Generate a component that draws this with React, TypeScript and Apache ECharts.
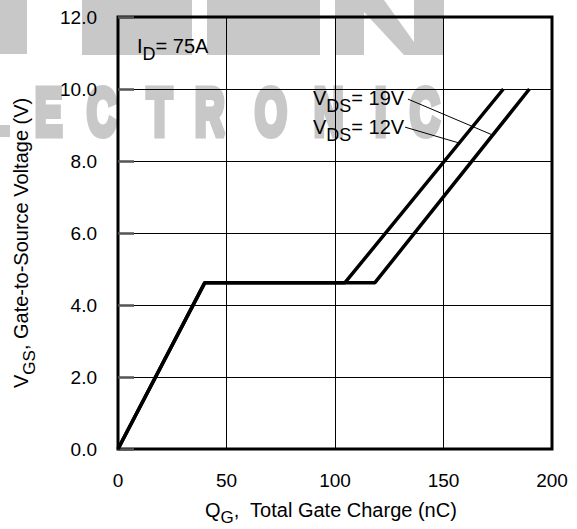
import React, { useEffect, useRef } from "react";
import * as echarts from "echarts";

const FONT = '"Liberation Sans", Arial, Helvetica, sans-serif';

// Axis ranges (nC, V)
const qRange = [0, 200];
const qStep = 50;
const vRange = [0, 12];
const vStep = 2;

// Gate charge curves: Q_G (nC) vs V_GS (V)
const vds12Q = [0, 40, 104.6, 177.6];
const vds12V = [0, 4.62, 4.62, 10];
const vds19Q = [0, 40, 118.4, 189.6];
const vds19V = [0, 4.62, 4.62, 10];

// Leader lines from the V_DS labels to their curves: [Q, V] start and end
const leader19 = [[133.6, 9.72], [172.7, 8.72]];
const leader12 = [[132.3, 8.94], [157.2, 8.5]];

const WM = "#c8c8c8";

let measureCtx: CanvasRenderingContext2D | null = null;
function textWidth(text: string, size: number, weight = "normal"): number {
  if (!measureCtx) measureCtx = document.createElement("canvas").getContext("2d");
  if (!measureCtx) return text.length * size * 0.55;
  measureCtx.font = `${weight} ${size}px ${FONT}`;
  return measureCtx.measureText(text).width;
}

type Run = { text: string; size: number; drop: number };

// Lays out a line of text with baseline-shifted runs (for subscripts)
function runs(x0: number, baseline: number, parts: Run[]) {
  let x = x0;
  const out: any[] = [];
  for (const p of parts) {
    out.push({
      type: "text",
      x,
      y: baseline + p.drop - 0.31 * p.size,
      z: 50,
      style: {
        text: p.text,
        fontSize: p.size,
        fontFamily: FONT,
        fill: "#000",
        align: "left",
        textAlign: "left",
        verticalAlign: "middle",
        textVerticalAlign: "middle",
      },
    });
    x += textWidth(p.text, p.size);
  }
  return out;
}

function wmLetter(ch: string, x: number) {
  return {
    type: "text",
    x,
    y: 112.5,
    scaleX: 0.62,
    z: -10,
    style: {
      text: ch,
      fontSize: 66,
      fontWeight: "bold",
      fontFamily: FONT,
      fill: WM,
      stroke: WM,
      lineWidth: 7,
      align: "left",
      textAlign: "left",
      verticalAlign: "middle",
      textVerticalAlign: "middle",
    },
  };
}

function wmRect(x: number, y: number, w: number, h: number) {
  return { type: "rect", z: -10, shape: { x, y, width: w, height: h }, style: { fill: WM } };
}

export default function App() {
  const ref = useRef<HTMLDivElement>(null);

  useEffect(() => {
    if (!ref.current) return;
    const chart = echarts.init(ref.current, undefined, { renderer: "svg" });

    const line = (name: string, qs: number[], vs: number[], leader: number[][]) => ({
      name,
      type: "line",
      data: qs.map((q, i) => [q, vs[i]]),
      symbol: "none",
      lineStyle: { color: "#000", width: 3.5 },
      z: 5,
      markLine: {
        silent: true,
        symbol: "none",
        label: { show: false },
        lineStyle: { color: "#000", width: 1, type: "solid" },
        data: [[{ coord: leader[0] }, { coord: leader[1] }]],
      },
    });

    const graphics: any[] = [
      // faint background lettering
      wmRect(0, 0, 27, 54),
      wmRect(82, 0, 110, 55),
      wmRect(207, 0, 113, 55),
      wmRect(335, 0, 29, 55),
      wmRect(414, 0, 30, 55),
      { type: "polygon", z: -10, shape: { points: [[364, 0], [384, 0], [414, 42], [414, 55], [404, 55], [364, 12]] }, style: { fill: WM } },
      wmRect(0, 125, 10, 12),
      wmLetter("E", 35),
      wmLetter("C", 87),
      wmLetter("T", 147),
      wmLetter("R", 195),
      wmLetter("O", 255),
      wmLetter("N", 314),
      wmLetter("I", 375),
      wmLetter("C", 410),
      // annotations
      ...runs(137, 52, [
        { text: "I", size: 20, drop: 0 },
        { text: "D", size: 18, drop: 8 },
        { text: "= 75A", size: 20, drop: 0 },
      ]),
      ...runs(313, 104, [
        { text: "V", size: 20, drop: 0 },
        { text: "DS", size: 18, drop: 8 },
        { text: "= 19V", size: 20, drop: 0 },
      ]),
      ...runs(313, 133, [
        { text: "V", size: 20, drop: 0 },
        { text: "DS", size: 18, drop: 8 },
        { text: "= 12V", size: 20, drop: 0 },
      ]),
      // x axis title
      ...runs(205, 516, [
        { text: "Q", size: 20, drop: 0 },
        { text: "G", size: 17, drop: 7 },
        { text: ",  Total Gate Charge (nC)", size: 20, drop: 0 },
      ]),
      // y axis title, reading upwards
      {
        type: "group",
        x: 27,
        y: 388,
        rotation: Math.PI / 2,
        children: runs(0, 0, [
          { text: "V", size: 20, drop: 0 },
          { text: "GS", size: 17, drop: 8 },
          { text: ", Gate-to-Source Voltage (V)", size: 20, drop: 0 },
        ]),
      },
    ];

    chart.setOption({
      animation: false,
      backgroundColor: "#ffffff",
      grid: {
        left: 118,
        right: 25,
        top: 17,
        bottom: 80,
        show: true,
        borderColor: "#000",
        borderWidth: 3,
        backgroundColor: "transparent",
      },
      xAxis: {
        type: "value",
        min: qRange[0],
        max: qRange[1],
        interval: qStep,
        axisLine: { show: false },
        axisTick: { show: false },
        splitLine: { show: true, lineStyle: { color: "#000", width: 1 } },
        axisLabel: { color: "#000", fontSize: 19, fontFamily: FONT, margin: 22 },
      },
      yAxis: {
        type: "value",
        min: vRange[0],
        max: vRange[1],
        interval: vStep,
        axisLine: { show: false },
        axisTick: { show: true, inside: true, length: 16, lineStyle: { color: "#555", width: 2.5 } },
        splitLine: { show: true, lineStyle: { color: "#000", width: 1 } },
        axisLabel: {
          color: "#000",
          fontSize: 19,
          fontFamily: FONT,
          margin: 21,
          formatter: (v: number) => v.toFixed(1),
        },
      },
      series: [line("VDS = 12V", vds12Q, vds12V, leader12), line("VDS = 19V", vds19Q, vds19V, leader19)],
      graphic: graphics,
    });

    return () => chart.dispose();
  }, []);

  return <div ref={ref} style={{ position: "absolute", left: 0, top: 0, width: 577, height: 529 }} />;
}
